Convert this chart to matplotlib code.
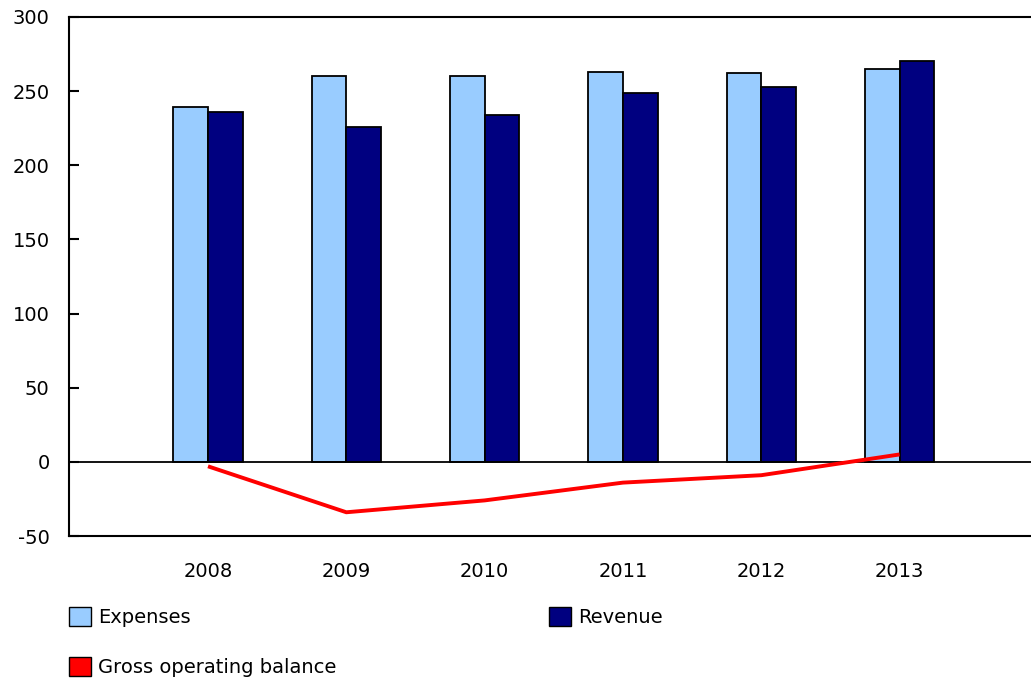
import matplotlib
matplotlib.use("Agg")
import matplotlib.pyplot as plt
from matplotlib.patches import Patch
import numpy as np

plt.rcParams['font.family'] = ['DejaVu Sans']
plt.rcParams['axes.unicode_minus'] = False

years = ["2008", "2009", "2010", "2011", "2012", "2013"]
expenses = [239, 260, 260, 263, 262, 265]
revenue = [236, 226, 234, 249, 253, 270]
gross_balance = [-3, -34, -26, -14, -9, 5]

c_exp = "#99CCFF"
c_rev = "#000080"
c_bal = "#FF0000"

W, H = 1031, 680
fig = plt.figure(figsize=(W / 100, H / 100), dpi=100)
ax = fig.add_axes([69 / W, 1 - 536 / H, 1 - 69 / W, (536 - 17) / H])

x = np.arange(len(years))
bw = 0.25
ax.bar(x - bw / 2, expenses, width=bw, color=c_exp, edgecolor="black", linewidth=1.3, zorder=2)
ax.bar(x + bw / 2, revenue, width=bw, color=c_rev, edgecolor="black", linewidth=1.3, zorder=2)
ax.axhline(0, color="black", linewidth=1.3, zorder=3)
ax.plot(x, gross_balance, color=c_bal, linewidth=2.8, zorder=4, solid_capstyle="butt")

ax.set_xlim(-1.005, 5.95)
ax.set_ylim(-50, 300)
ax.set_yticks(np.arange(-50, 301, 50))
ax.set_xticks(x)
ax.set_xticklabels(years)

for side in ["left", "top", "bottom"]:
    ax.spines[side].set_linewidth(1.5)
ax.spines["right"].set_visible(False)

fs = 14
ax.tick_params(axis="y", direction="in", length=7, width=1.5, pad=14, labelsize=fs)
ax.tick_params(axis="x", length=0, pad=19, labelsize=fs)

items = [
    (c_exp, "Expenses", 69, 617),
    (c_rev, "Revenue", 549, 617),
    (c_bal, "Gross operating balance", 69, 667),
]
for color, label, px, py in items:
    h = Patch(facecolor=color, edgecolor="black", linewidth=1.0)
    fig.legend(handles=[h], labels=[label], loc="center left",
               bbox_to_anchor=(px / W, 1 - py / H), frameon=False,
               borderaxespad=0, borderpad=0, handlelength=1.15, handleheight=1.15,
               handletextpad=0.36, fontsize=fs)

fig.savefig("out.png", dpi=100)
